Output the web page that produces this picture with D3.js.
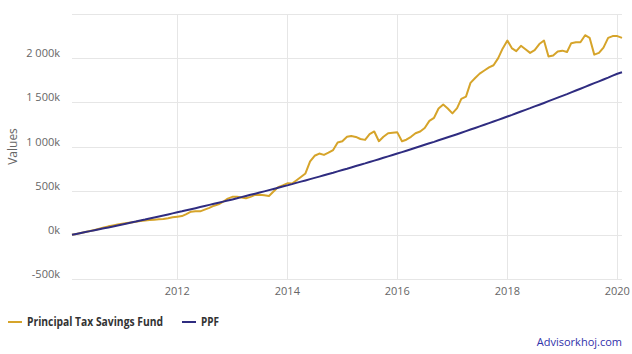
<!DOCTYPE html>
<html>
<head>
<meta charset="utf-8">
<script src="https://cdn.jsdelivr.net/npm/d3@7"></script>
<style>
  body { margin: 0; background: #fff; }
  svg { font-family: "Open Sans", "DejaVu Sans", sans-serif; }
</style>
</head>
<body>
<div id="chart"></div>
<script>
// monthly values in thousands, starting Feb 2010
const startMonth = "2010-02-01";
const fundValues = [
  0, 10, 20, 31, 43, 55, 68, 82, 96, 106, 116, 126,
  133, 140, 148, 156, 163, 168, 172, 176, 180, 188, 198, 205,
  212, 235, 262, 268, 266, 285, 305, 330, 345, 375, 410, 430,
  432, 422, 414, 430, 452, 455, 448, 440, 490, 540, 560, 583,
  580, 615, 655, 695, 831, 895, 920, 905, 930, 960, 1045, 1060,
  1110, 1120, 1108, 1085, 1075, 1140, 1170, 1060, 1110, 1150, 1155, 1160,
  1060, 1077, 1110, 1150, 1170, 1210, 1290, 1325, 1430, 1475, 1430, 1375,
  1435, 1540, 1565, 1720, 1775, 1825, 1860, 1895, 1920, 2000, 2110, 2200,
  2110, 2080, 2140, 2100, 2060, 2090, 2160, 2200, 2020, 2030, 2075, 2085,
  2070, 2170, 2180, 2180, 2260, 2230, 2040, 2060, 2120, 2230, 2250, 2250,
  2230
];
const ppfValues = [
  0, 10, 21, 31, 42, 52, 63, 74, 84, 95, 106, 117,
  128, 139, 150, 162, 173, 185, 196, 208, 219, 231, 243, 255,
  266, 278, 290, 302, 314, 326, 339, 351, 363, 376, 388, 401,
  414, 427, 440, 453, 466, 479, 492, 506, 519, 533, 547, 560,
  574, 588, 602, 616, 631, 645, 659, 674, 689, 703, 718, 733,
  748, 763, 779, 794, 809, 825, 840, 856, 872, 888, 904, 920,
  936, 952, 969, 985, 1002, 1019, 1036, 1052, 1070, 1087, 1104, 1121,
  1139, 1156, 1174, 1192, 1210, 1228, 1246, 1265, 1283, 1302, 1320, 1339,
  1358, 1377, 1396, 1415, 1434, 1454, 1473, 1493, 1513, 1533, 1553, 1573,
  1593, 1613, 1634, 1654, 1675, 1696, 1717, 1738, 1759, 1780, 1802, 1823,
  1840
];
const seriesNames = ["Principal Tax Savings Fund", "PPF"];
const seriesColors = ["#d6a42a", "#2f2c80"];
const yTicks = [-500, 0, 500, 1000, 1500, 2000, 2500];
const yTickLabels = ["-500k", "0k", "500k", "1 000k", "1 500k", "2 000k", ""];
const xTickYears = [2012, 2014, 2016, 2018, 2020];

const width = 632, height = 354;
const plot = { left: 72, right: 622, top: 14, bottom: 279 };

const start = new Date(startMonth + "T00:00:00");
const dates = fundValues.map((v, i) => d3.timeMonth.offset(start, i));

const x = d3.scaleTime()
  .domain([dates[0], dates[dates.length - 1]])
  .range([plot.left, plot.right]);
const y = d3.scaleLinear()
  .domain([-500, 2500])
  .range([plot.bottom, plot.top]);

const svg = d3.select("#chart")
  .append("svg")
  .attr("width", width)
  .attr("height", height);

// horizontal grid + y labels
const yAxis = svg.append("g");
yTicks.forEach((t, i) => {
  yAxis.append("line")
    .attr("x1", plot.left).attr("x2", plot.right)
    .attr("y1", Math.round(y(t)) + 0.5).attr("y2", Math.round(y(t)) + 0.5)
    .attr("stroke", "#e6e6e6");
  yAxis.append("text")
    .attr("x", 60)
    .attr("y", y(t) - 1)
    .attr("text-anchor", "end")
    .attr("fill", "#666")
    .attr("font-size", 11)
    .text(yTickLabels[i]);
});

// vertical grid + x labels
const xTicks = xTickYears.map(yr => new Date(yr, 0, 1));
const xAxis = svg.append("g");
xTicks.forEach(t => {
  xAxis.append("line")
    .attr("x1", Math.round(x(t)) + 0.5).attr("x2", Math.round(x(t)) + 0.5)
    .attr("y1", plot.top).attr("y2", plot.bottom)
    .attr("stroke", "#e6e6e6");
  xAxis.append("text")
    .attr("x", x(t))
    .attr("y", 295)
    .attr("text-anchor", "middle")
    .attr("fill", "#666")
    .attr("font-size", 11)
    .text(d3.timeFormat("%Y")(t));
});

svg.append("text")
  .attr("transform", `translate(17,${(plot.top + plot.bottom) / 2}) rotate(-90)`)
  .attr("text-anchor", "middle")
  .attr("fill", "#666")
  .attr("font-size", 12)
  .text("Values");

const line = d3.line()
  .x((d, i) => x(dates[i]))
  .y(d => y(d));

[fundValues, ppfValues].forEach((vals, i) => {
  svg.append("path")
    .datum(vals)
    .attr("fill", "none")
    .attr("stroke", seriesColors[i])
    .attr("stroke-width", 2)
    .attr("stroke-linejoin", "round")
    .attr("d", line);
});

// legend
const legendX = [8, 182];
const legendTextW = [136, 18];
seriesNames.forEach((name, i) => {
  const g = svg.append("g").attr("transform", `translate(${legendX[i]},322)`);
  g.append("line")
    .attr("x1", 0).attr("x2", 14)
    .attr("stroke", seriesColors[i])
    .attr("stroke-width", 2);
  g.append("text")
    .attr("x", 19)
    .attr("y", 4)
    .attr("fill", "#333")
    .attr("font-size", 11.5)
    .attr("font-weight", "bold")
    .attr("textLength", legendTextW[i])
    .attr("lengthAdjust", "spacingAndGlyphs")
    .text(name);
});

svg.append("text")
  .attr("x", 622)
  .attr("y", 346)
  .attr("text-anchor", "end")
  .attr("fill", "#3030aa")
  .attr("font-size", 11)
  .text("Advisorkhoj.com");
</script>
</body>
</html>
